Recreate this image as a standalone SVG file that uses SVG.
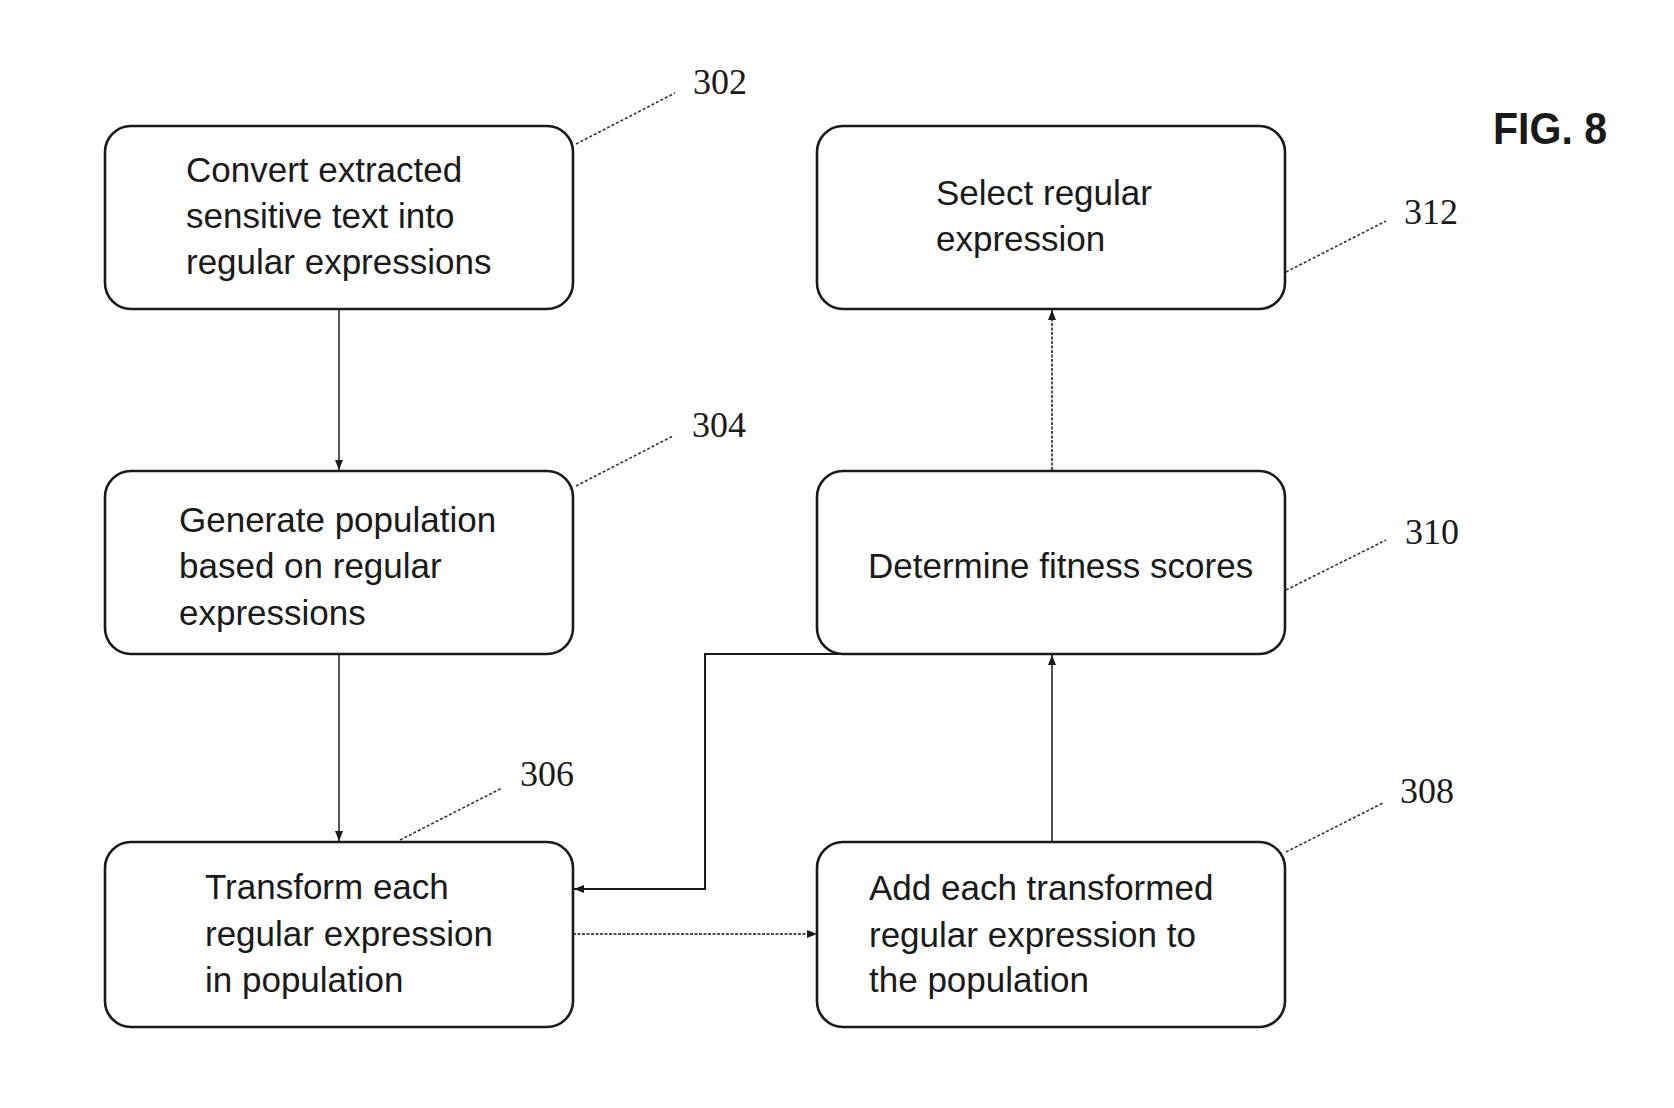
<svg xmlns="http://www.w3.org/2000/svg" width="1674" height="1108" viewBox="0 0 1674 1108">
<style>
.box{fill:#fff;stroke:#1a1a1a;stroke-width:2.6}
.t{font-family:"Liberation Sans",Arial,sans-serif;font-size:35px;fill:#1a1a1a}
.num{font-family:"Liberation Serif","Times New Roman",serif;font-size:36px;fill:#1a1a1a}
.lead{fill:none;stroke:#333;stroke-width:1.6;stroke-dasharray:3 2}
.c{fill:none;stroke:#1a1a1a;stroke-width:1.5}
.d{stroke-dasharray:3 1.5}
.fig{font-family:"Liberation Sans",Arial,sans-serif;font-size:44px;font-weight:bold;fill:#1a1a1a}
</style>
<defs>
<marker id="ah" viewBox="0 0 10 10" refX="10" refY="5" markerWidth="10" markerHeight="10" markerUnits="userSpaceOnUse" orient="auto">
<path d="M0,1 L10,5 L0,9 Z" fill="#1a1a1a"/>
</marker>
</defs>
<rect width="1674" height="1108" fill="#fff"/>
<g id="connectors">
<line class="c" x1="339" y1="310" x2="339" y2="470" marker-end="url(#ah)"/>
<line class="c" x1="339" y1="654" x2="339" y2="841" marker-end="url(#ah)"/>
<line class="c d" x1="573" y1="934" x2="817" y2="934" marker-end="url(#ah)"/>
<line class="c" x1="1052" y1="842" x2="1052" y2="655" marker-end="url(#ah)"/>
<line class="c d" x1="1052" y1="470" x2="1052" y2="310" marker-end="url(#ah)"/>
<polyline class="c" style="stroke-width:2" points="845,654 705,654 705,889 574,889" marker-end="url(#ah)"/>
</g>
<g id="n302">
<rect class="box" x="105" y="126" width="468" height="183" rx="26" ry="26"/>
<text class="t" x="186" y="182">Convert extracted</text>
<text class="t" x="186" y="228">sensitive text into</text>
<text class="t" x="186" y="274">regular expressions</text>
<polyline class="lead" points="576,144 675,93"/>
<text class="num" x="693" y="94">302</text>
</g>
<g id="n304">
<rect class="box" x="105" y="471" width="468" height="183" rx="26" ry="26"/>
<text class="t" x="179" y="532">Generate population</text>
<text class="t" x="179" y="578">based on regular</text>
<text class="t" x="179" y="625">expressions</text>
<polyline class="lead" points="576,486 673,436"/>
<text class="num" x="692" y="437">304</text>
</g>
<g id="n306">
<rect class="box" x="105" y="842" width="468" height="185" rx="26" ry="26"/>
<text class="t" x="205" y="899">Transform each</text>
<text class="t" x="205" y="946">regular expression</text>
<text class="t" x="205" y="992">in population</text>
<polyline class="lead" points="400,840 502,788"/>
<text class="num" x="520" y="786">306</text>
</g>
<g id="n308">
<rect class="box" x="817" y="842" width="468" height="185" rx="26" ry="26"/>
<text class="t" x="869" y="900">Add each transformed</text>
<text class="t" x="869" y="947">regular expression to</text>
<text class="t" x="869" y="992">the population</text>
<polyline class="lead" points="1286,852 1383,803"/>
<text class="num" x="1400" y="803">308</text>
</g>
<g id="n310">
<rect class="box" x="817" y="471" width="468" height="183" rx="26" ry="26"/>
<text class="t" x="868" y="578">Determine fitness scores</text>
<polyline class="lead" points="1286,590 1386,540"/>
<text class="num" x="1405" y="544">310</text>
</g>
<g id="n312">
<rect class="box" x="817" y="126" width="468" height="183" rx="26" ry="26"/>
<text class="t" x="936" y="205">Select regular</text>
<text class="t" x="936" y="251">expression</text>
<polyline class="lead" points="1286,272 1386,221"/>
<text class="num" x="1404" y="224">312</text>
</g>
<text class="fig" x="1493" y="144" textLength="114" lengthAdjust="spacingAndGlyphs">FIG. 8</text>
</svg>
